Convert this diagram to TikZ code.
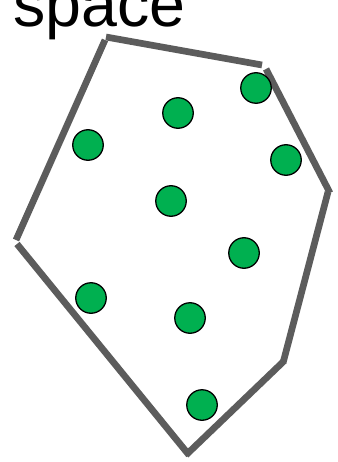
\documentclass[tikz,border=0pt]{standalone}
\usepackage{fontspec}
\setmainfont{Liberation Sans}
\begin{document}
\begin{tikzpicture}[x=1pt,y=-1pt,
  edge/.style={draw=black!64, line width=6.7pt, line cap=butt},
  dot/.style={circle, draw=black, line width=1.3pt, fill=dotgreen, minimum size=30.5pt, inner sep=0pt},
  lbl/.style={font=\fontsize{64.5}{72}\selectfont, inner sep=0pt, anchor=base west}]
\definecolor{dotgreen}{HTML}{00B050}
\clip (0,0) rectangle (337,462);
\useasboundingbox (0,0) rectangle (337,462);
\fill[white] (0,0) rectangle (337,462);
\node[lbl] (title) at (13,27) {space};
% polygon vertices
\coordinate (a1) at (106,37);  \coordinate (a2) at (262,65);
\coordinate (b1) at (105,40);  \coordinate (b2) at (16,240);
\coordinate (c1) at (17,244);  \coordinate (c2) at (189,455);
\coordinate (d1) at (186,455); \coordinate (d2) at (284,361);
\coordinate (e1) at (283,363); \coordinate (e2) at (328,192);
\coordinate (f1) at (266,69);  \coordinate (f2) at (330,193);
\draw[edge] (a1) -- (a2);
\draw[edge] (b1) -- (b2);
\draw[edge] (c1) -- (c2);
\draw[edge] (d1) -- (d2);
\draw[edge] (e1) -- (e2);
\draw[edge] (f1) -- (f2);
% points
\node[dot] (p1) at (256,88) {};
\node[dot] (p2) at (178,113) {};
\node[dot] (p3) at (88,145) {};
\node[dot] (p4) at (286,160) {};
\node[dot] (p5) at (171,201) {};
\node[dot] (p6) at (244,253) {};
\node[dot] (p7) at (91,298) {};
\node[dot] (p8) at (190,318) {};
\node[dot] (p9) at (202,405) {};
\end{tikzpicture}
\end{document}
